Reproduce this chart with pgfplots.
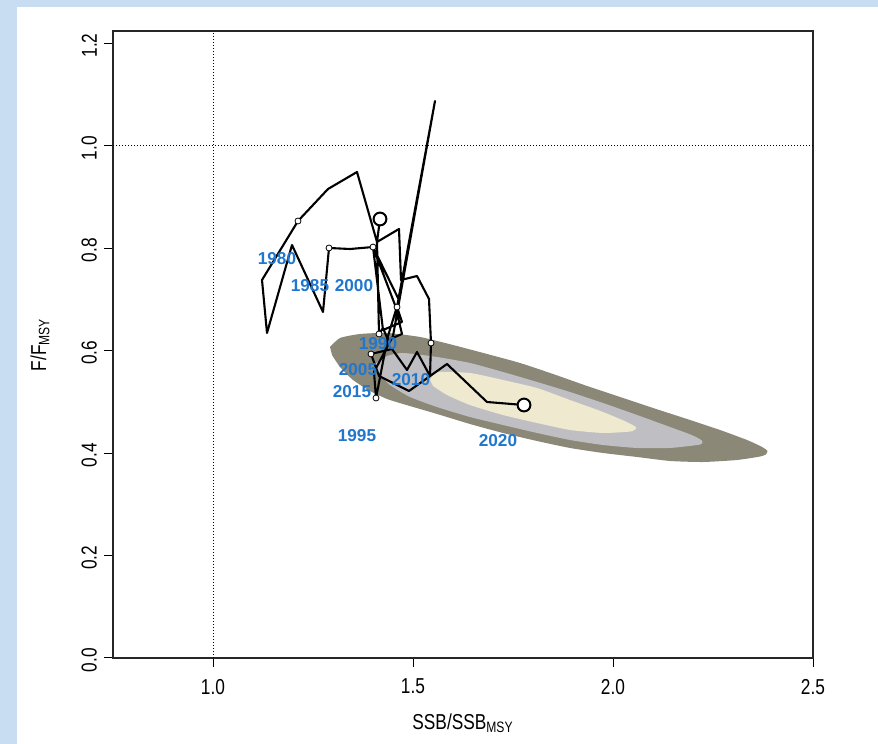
\documentclass[border=0pt]{standalone}
\usepackage{fontspec}
\setmainfont{Liberation Sans}
\newfontfamily\narrowfont[FakeStretch=0.8]{Liberation Sans}
\usepackage{pgfplots}
\pgfplotsset{compat=1.18}
\definecolor{bgblue}{HTML}{C8DDF1}
\definecolor{kout}{HTML}{8B8878}
\definecolor{kmid}{HTML}{BFBFC3}
\definecolor{kin}{HTML}{EEE9CF}
\definecolor{yrblue}{RGB}{33,118,206}
\begin{document}
\begin{tikzpicture}[x=1pt,y=1pt]
\path[use as bounding box] (0,0) rectangle (439,372);
\fill[bgblue] (0,0) rectangle (439,372);
\fill[white] (8.5,0) rectangle (439,368.5);
\begin{axis}[
  at={(56.5pt,43pt)}, anchor=south west, scale only axis,
  width=350pt, height=313.5pt,
  xmin=0.75, xmax=2.5, ymin=0, ymax=1.2246,
  xtick={1,1.5,2,2.5}, xticklabels={1.0,1.5,2.0,2.5},
  ytick={0,0.2,0.4,0.6,0.8,1.0,1.2},
  yticklabels={0.0,0.2,0.4,0.6,0.8,1.0,1.2},
  tick pos=left, tick align=outside, major tick length=4.5pt,
  every tick/.style={black, line width=0.5pt},
  axis line style={black!85, line width=0.55pt},
  tick label style={font=\narrowfont\fontsize{10.8}{12}\selectfont},
  xticklabel style={yshift=-2.5pt},
  yticklabel style={rotate=90, anchor=south, xshift=-1pt},
]
% kernel density regions
\addplot[draw=none, fill=kout, smooth, tension=0.35] coordinates {
(1.2925,0.6074) (1.3175,0.625) (1.3675,0.6328) (1.435,0.6348) (1.5175,0.6270)
(1.60,0.6113) (1.685,0.5938) (1.7675,0.5762) (1.85,0.5547) (1.935,0.5313)
(2.0175,0.5098) (2.10,0.4883) (2.185,0.4668) (2.2675,0.4453) (2.335,0.4258)
(2.372,0.4125) (2.386,0.4045) (2.382,0.3975) (2.3675,0.3935) (2.31,0.3867) (2.225,0.3828)
(2.1425,0.3848) (2.06,0.3926) (1.975,0.4004) (1.8925,0.4102) (1.81,0.4238)
(1.725,0.4395) (1.6425,0.4570) (1.56,0.4766) (1.475,0.4961) (1.435,0.5059)
(1.3925,0.5215) (1.35,0.5430) (1.3175,0.5684) (1.2975,0.5918)} -- cycle;
\addplot[draw=none, fill=kmid, smooth, tension=0.35] coordinates {
(1.405,0.5742) (1.435,0.5898) (1.475,0.5957) (1.56,0.5879) (1.6425,0.5762)
(1.725,0.5586) (1.81,0.5391) (1.8925,0.5195) (1.975,0.4980) (2.06,0.4746)
(2.1425,0.4512) (2.195,0.4360) (2.222,0.4250) (2.218,0.4170) (2.1425,0.4102)
(2.06,0.4102) (1.975,0.4160) (1.8925,0.4258) (1.81,0.4395) (1.725,0.4551)
(1.6425,0.4707) (1.56,0.4902) (1.4925,0.5098) (1.4425,0.5332) (1.4125,0.5566)} -- cycle;
\addplot[draw=none, fill=kin, smooth, tension=0.35] coordinates {
(1.5425,0.5430) (1.56,0.5586) (1.6425,0.5566) (1.725,0.5430) (1.81,0.5273)
(1.8925,0.5039) (1.975,0.4805) (2.03,0.4625) (2.058,0.4505) (2.045,0.4425)
(1.975,0.4395) (1.8925,0.4453) (1.81,0.4590) (1.725,0.4746) (1.6425,0.4941)
(1.585,0.5137) (1.55,0.5313)} -- cycle;
% reference lines
\addplot[black, densely dotted, line width=0.5pt] coordinates {(1,0) (1,1.2246)};
\addplot[black, densely dotted, line width=0.5pt] coordinates {(0.75,1) (2.5,1)};
% trajectory
\addplot[black, line width=1.05pt, line join=round] coordinates {
(1.4175,0.8574) (1.41,0.8125) (1.36,0.9492) (1.2875,0.9160) (1.2125,0.8535)
(1.1225,0.7383) (1.135,0.6348) (1.1975,0.8066) (1.275,0.6758) (1.29,0.8008)
(1.3425,0.7988) (1.40,0.8027) (1.425,0.6406) (1.4725,0.6563) (1.46,0.6855)
(1.555,1.0879) (1.45,0.6289) (1.4025,0.5586) (1.4075,0.5078) (1.4375,0.6289)
(1.465,0.6992) (1.40,0.8027) (1.455,0.6895) (1.4725,0.6328) (1.4375,0.6211)
(1.425,0.6445) (1.415,0.6328) (1.41,0.8125) (1.465,0.8379) (1.47,0.7383)
(1.51,0.7461) (1.54,0.7012) (1.545,0.6152) (1.5425,0.5508) (1.51,0.5977)
(1.485,0.5625) (1.4475,0.6035) (1.395,0.5938) (1.415,0.5508) (1.49,0.5215)
(1.585,0.5742) (1.685,0.5) (1.7775,0.4941)};
% small year markers
\addplot[only marks, mark=*, mark size=1.5pt, mark options={fill=white, draw=black, line width=0.4pt}] coordinates {
(1.2125,0.8535) (1.29,0.8008) (1.46,0.6855) (1.4075,0.5078) (1.40,0.8027)
(1.415,0.6328) (1.545,0.6152) (1.395,0.5938)};
% first and last year
\addplot[only marks, mark=*, mark size=3.2pt, mark options={fill=white, draw=black, line width=1pt}] coordinates {
(1.4175,0.8574) (1.7775,0.4941)};
% year labels
\begin{scope}[every node/.style={text=yrblue, font=\fontsize{8.6}{10}\selectfont\bfseries, inner sep=0pt}]
\node at (axis cs:1.16,0.7793) {1980};
\node at (axis cs:1.2425,0.7266) {1985};
\node at (axis cs:1.3525,0.7266) {2000};
\node at (axis cs:1.4125,0.6133) {1990};
\node at (axis cs:1.3625,0.5625) {2005};
\node at (axis cs:1.495,0.5430) {2010};
\node at (axis cs:1.3475,0.5195) {2015};
\node at (axis cs:1.36,0.4336) {1995};
\node at (axis cs:1.7125,0.4238) {2020};
\end{scope}
\end{axis}
\node[font=\narrowfont\fontsize{10.8}{12}\selectfont] at (231.5,10.5) {SSB/SSB\textsubscript{MSY}};
\node[font=\narrowfont\fontsize{10.8}{12}\selectfont, rotate=90] at (20,199.75) {F/F\textsubscript{MSY}};
\end{tikzpicture}
\end{document}
